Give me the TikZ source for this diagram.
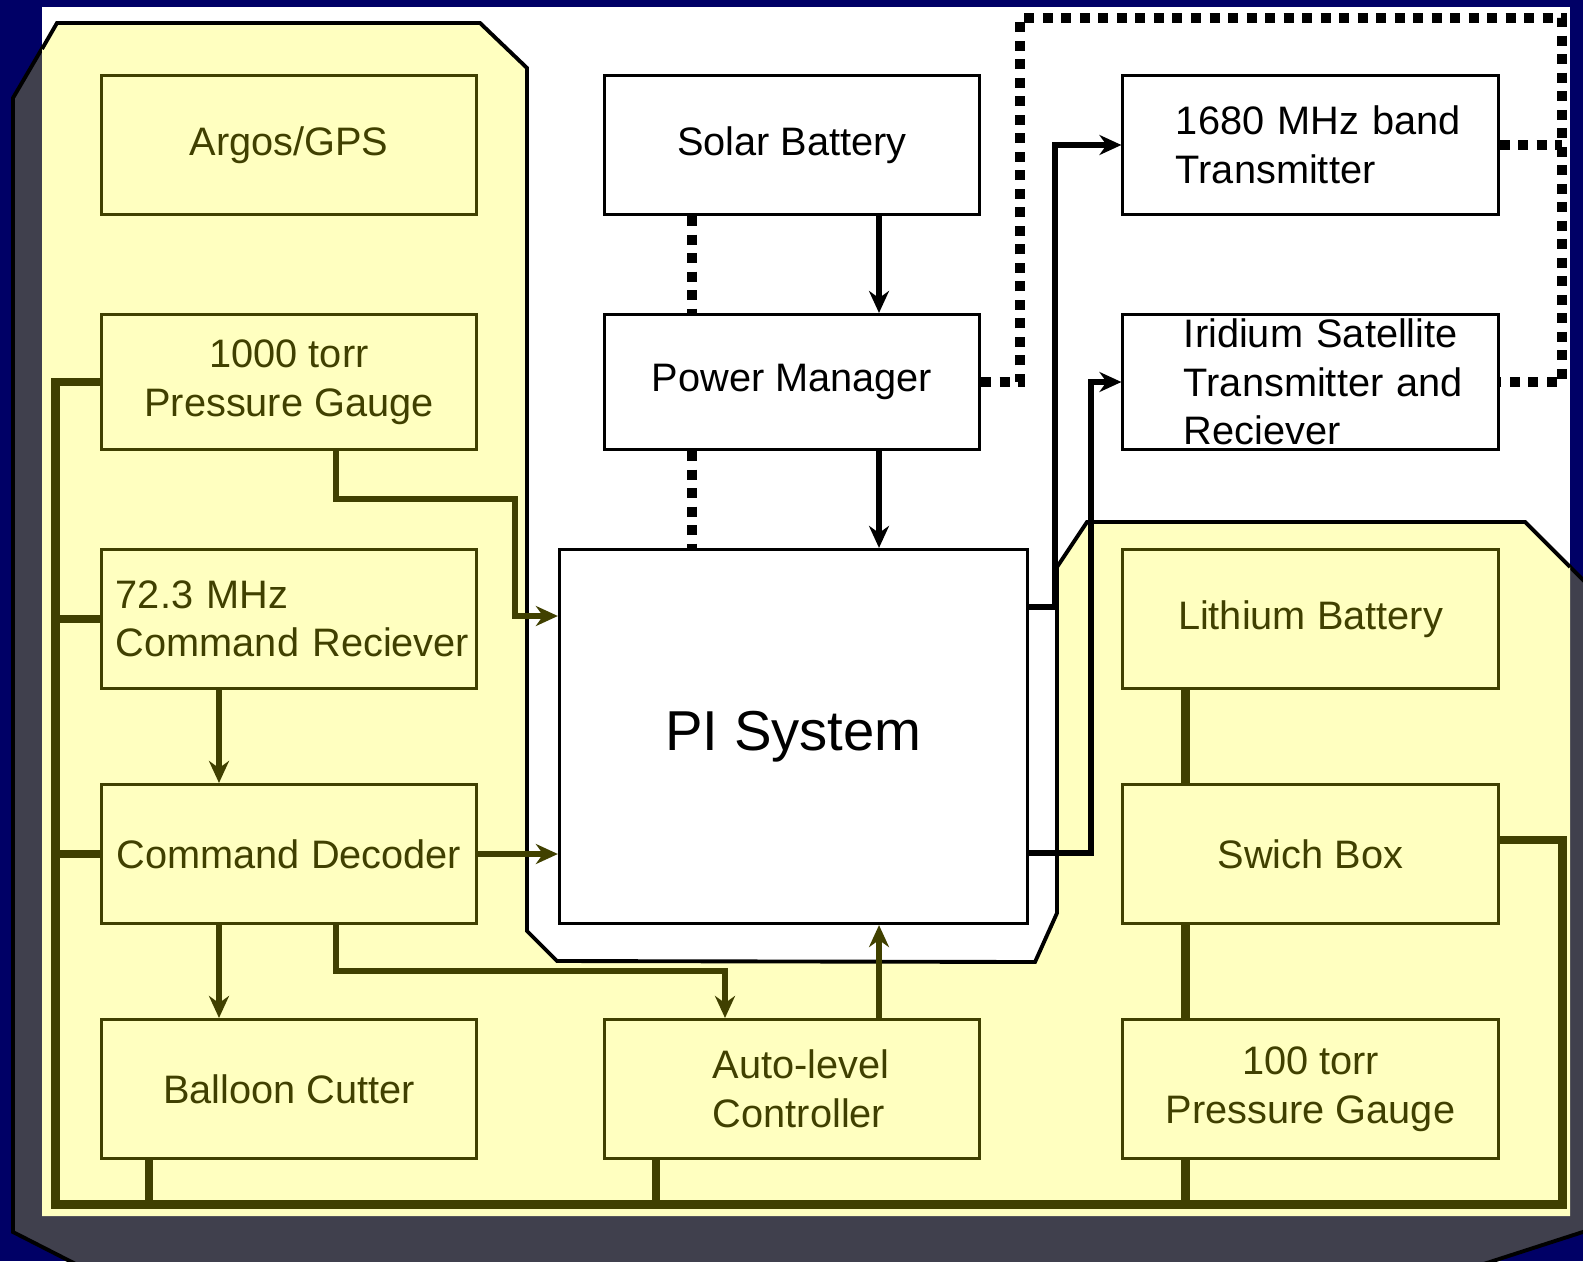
\documentclass[tikz,border=0pt]{standalone}
\usepackage{fontspec}
\setmainfont{Liberation Sans}
\usetikzlibrary{arrows.meta}
\definecolor{navybg}{RGB}{0,0,102}
\definecolor{slate}{RGB}{64,64,77}
\definecolor{paleyellow}{RGB}{255,255,192}
\definecolor{darkolive}{RGB}{64,64,0}

\begin{document}
\begin{tikzpicture}[x=0.01cm, y=-0.01cm,
  ybox/.style={draw=darkolive, fill=paleyellow, text=darkolive, line width=0.85pt,
    minimum width=3.75cm, minimum height=1.39cm, inner sep=2pt,
    font=\fontsize{11.3}{13.8}\selectfont},
  wbox/.style={ybox, draw=black, fill=white, text=black},
  link/.style={line width=1.6pt, -{Stealth[length=0.22cm, width=0.2cm]}},
  olink/.style={link, color=darkolive},
  bus/.style={draw=darkolive, line width=2.55pt},
  dotlink/.style={line width=2.85pt, dash pattern=on 0.1cm off 0.085cm}]
  \useasboundingbox (0,0) rectangle (1583,1261);
  \fill[navybg] (0,0) rectangle (1583,1261);
  \filldraw[fill=slate, draw=black, line width=1.1pt] (13,98) -- (57,23) -- (1026,23) -- (1620,617)
    -- (1620,1220) -- (1434,1280) -- (107,1280) -- (13,1232) -- cycle;
  \fill[white] (42,7) rectangle (1570,1216);
  \fill[paleyellow] (42,1216) -- (42,49) -- (57,23) -- (480,23) -- (527,68) -- (527,931) -- (557,961)
    -- (1035,962) -- (1057,913) -- (1057,567) -- (1087,522) -- (1525,522) -- (1570,567) -- (1570,1216) -- cycle;
  \draw[line width=1.1pt] (42,49) -- (57,23) -- (480,23) -- (527,68) -- (527,931) -- (557,961)
    -- (1035,962) -- (1057,913) -- (1057,567) -- (1087,522) -- (1525,522) -- (1570,567);

  \node[ybox] (argos) at (289,145) {Argos/GPS};
  \node[ybox, minimum height=1.35cm, align=center] (pg1000) at (289,382) {1000 torr\\Pressure Gauge};
  \node[ybox, align=left, text width=3.46cm] (cmdrx) at (289,619) {\mbox{72.3 MHz}\\\mbox{Command Reciever}};
  \node[ybox] (decoder) at (289,854) {Command Decoder};
  \node[ybox] (cutter) at (289,1089) {Balloon Cutter};
  \node[ybox, align=left, text width=1.58cm] (autolvl) at (792,1089) {\mbox{Auto-level}\\\mbox{Controller}};
  \node[wbox] (solar) at (792,145) {Solar Battery};
  \node[wbox, minimum height=1.35cm] (powerman) at (792,382) {Power Manager};
  \node[wbox, minimum width=4.68cm, minimum height=3.74cm, font=\fontsize{16}{19}\selectfont] (pi) at (793.5,736.5) {PI System};
  \node[wbox, align=left, text width=2.69cm] (tx1680) at (1310.5,145) {\mbox{1680 MHz band}\\\mbox{Transmitter}};
  \node[wbox, minimum height=1.35cm, inner ysep=0pt, align=left, text width=2.53cm] (iridium) at (1310.5,382)
    {\mbox{Iridium Satellite}\\\mbox{Transmitter and}\\\mbox{Reciever}};
  \node[ybox] (lithium) at (1310.5,619) {Lithium Battery};
  \node[ybox] (swich) at (1310.5,854) {Swich Box};
  \node[ybox, align=center] (pg100) at (1310.5,1089) {100 torr\\Pressure Gauge};

  \draw[link] (solar.south -| 879,0) -- (powerman.north -| 879,0);
  \draw[link] (powerman.south -| 879,0) -- (pi.north -| 879,0);
  \draw[dotlink] (solar.south -| 692,0) -- (powerman.north -| 692,0);
  \draw[dotlink] (powerman.south -| 692,0) -- (pi.north -| 692,0);
  \draw[dotlink] (powerman.east) -| (1020,18) -| (1562,382) -- (iridium.east);
  \draw[dotlink] (tx1680.east) -- (tx1680.east -| 1562,0);
  \draw[link] (pi.east |- 0,607) -| (1055,0 |- tx1680.west) -- (tx1680.west);
  \draw[link] (pi.east |- 0,853) -| (1091,0 |- iridium.west) -- (iridium.west);

  \draw[olink] (pg1000.south -| 336,0) |- (515,499) |- (pi.west |- 0,616);
  \draw[olink] (cmdrx.south -| 219,0) -- (decoder.north -| 219,0);
  \draw[olink] (decoder.east) -- (pi.west |- decoder.east);
  \draw[olink] (decoder.south -| 219,0) -- (cutter.north -| 219,0);
  \draw[olink] (decoder.south -| 336,0) |- (725,971) -- (autolvl.north -| 725,0);
  \draw[olink] (autolvl.north -| 879,0) -- (pi.south -| 879,0);

  \draw[bus] (pg1000.west) -| (55.5,1204.5) -| (1562.5,840) -- (swich.east |- 0,840);
  \draw[bus] (cmdrx.west) -- (cmdrx.west -| 55.5,0);
  \draw[bus] (decoder.west) -- (decoder.west -| 55.5,0);
  \draw[bus] (cutter.south -| 149,0) -- (149,1204.5);
  \draw[bus] (autolvl.south -| 656,0) -- (656,1204.5);
  \draw[bus] (pg100.south -| 1185,0) -- (1185,1204.5);
  \draw[bus] (lithium.south -| 1185,0) -- (swich.north -| 1185,0);
  \draw[bus] (swich.south -| 1185,0) -- (pg100.north -| 1185,0);
\end{tikzpicture}
\end{document}
